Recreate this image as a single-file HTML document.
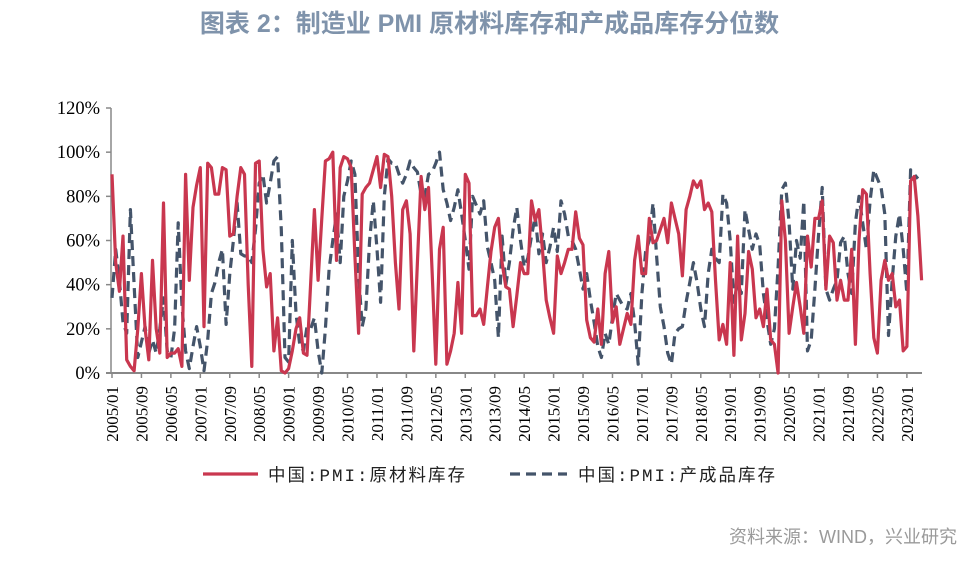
<!DOCTYPE html>
<html><head><meta charset="utf-8">
<style>
html,body{margin:0;padding:0;background:#fff;}
body{width:979px;height:561px;overflow:hidden;position:relative;}
#title{position:absolute;left:0;width:979px;top:4px;text-align:center;font-family:"Liberation Sans","Noto Sans CJK SC",sans-serif;font-weight:bold;font-size:25px;color:#7f93ab;}
#source{position:absolute;right:22px;top:523px;font-family:"Liberation Sans","Noto Sans CJK SC",sans-serif;font-size:18px;color:#9a9a9a;}
svg{position:absolute;left:0;top:0;}
</style></head><body>
<div id="title">图表 2：制造业 PMI 原材料库存和产成品库存分位数</div>
<svg id="chart" width="979" height="561"></svg>
<div id="source">资料来源：WIND，兴业研究</div>
<script>
const yTicks = [0,20,40,60,80,100,120];
const xLabels = ["2005/01","2005/09","2006/05","2007/01","2007/09","2008/05","2009/01","2009/09","2010/05","2011/01","2011/09","2012/05","2013/01","2013/09","2014/05","2015/01","2015/09","2016/05","2017/01","2017/09","2018/05","2019/01","2019/09","2020/05","2021/01","2021/09","2022/05","2023/01"];
const rawMaterial = [90,50,37,62,6,3,1,20,45,20,6,51,20,9,77,7,9,9,11,3,90,42,75,85,93,21,95,93,81,81,93,92,62,63,80,93,90,40,3,95,96,56,39,45,10,25,1,0,2,10,20,25,9,8,41,74,42,70,96,97,100,51,93,98,97,93,53,18,81,84,86,92,98,84,99,98,80,50,29,74,78,63,10,50,89,74,84,45,4,56,66,4,10,18,41,18,90,86,26,26,29,22,39,55,66,70,50,39,38,21,35,50,45,45,78,69,74,55,33,25,18,53,45,50,56,56,73,61,58,24,16,14,29,13,45,55,23,30,13,20,27,22,51,62,45,45,70,59,60,65,70,59,77,70,63,44,74,80,87,84,87,74,77,73,42,15,22,13,50,8,62,15,27,55,47,25,29,21,38,15,13,0,78,60,18,30,41,30,18,62,48,70,70,78,38,62,59,33,42,33,33,56,13,60,83,81,45,16,9,42,51,42,45,30,33,10,12,87,89,71,42];
const finishedGoods = [34,56,42,23,18,74,40,7,14,21,9,15,9,20,34,10,7,20,68,31,10,2,12,21,12,1,15,36,41,50,56,22,45,60,77,54,53,53,50,65,86,90,77,86,96,98,65,7,5,60,27,13,10,21,20,25,10,0,20,47,60,72,50,80,87,96,90,45,21,29,60,78,56,32,80,97,95,95,90,86,90,96,93,91,81,80,90,91,95,100,83,77,69,75,83,72,60,47,80,76,72,78,57,50,42,16,62,40,50,65,75,60,48,52,62,71,54,63,50,57,66,55,78,72,62,60,56,47,38,45,33,23,12,7,18,13,25,36,33,30,29,36,23,4,36,55,60,77,53,30,21,9,4,18,20,21,32,41,50,41,29,21,45,56,52,50,81,77,60,32,41,36,74,65,56,63,58,36,24,13,20,48,83,86,68,38,60,52,78,10,15,38,63,84,38,33,38,42,59,62,45,36,68,80,68,56,78,92,88,84,72,17,42,62,72,56,36,92,90,88];

const NS="http://www.w3.org/2000/svg";
const svg=document.getElementById('chart');
const X0=112, STEP=3.68, Y0=373, YPX=265/120;
function xScale(i){return X0+i*STEP;}
function yScale(v){return Y0-v*YPX;}
function mk(tag,attrs){const e=document.createElementNS(NS,tag);for(const k in attrs)e.setAttribute(k,attrs[k]);svg.appendChild(e);return e;}

let ya=mk('line',{x1:X0-1,y1:yScale(120),x2:X0-1,y2:Y0,stroke:'#888','stroke-width':1.5});


yTicks.forEach(t=>{
  const tk=mk('line',{x1:X0-6,y1:yScale(t),x2:X0-1,y2:yScale(t),stroke:'#888','stroke-width':1.5});
  
  
  const tx=mk('text',{x:X0-12,y:yScale(t)+6,'text-anchor':'end','font-family':'"Liberation Serif",serif','font-size':18.5,fill:'#000'});
  tx.textContent=t+'%';
  
  
});
let xa=mk('line',{x1:X0-6,y1:Y0,x2:922,y2:Y0,stroke:'#888','stroke-width':2});


xLabels.forEach((l,k)=>{
  const x=xScale(k*8);
  const tk=mk('line',{x1:x,y1:Y0,x2:x,y2:Y0+5,stroke:'#888','stroke-width':1.5});
  
  
  const tx=mk('text',{x:0,y:0,'text-anchor':'end','font-family':'"Liberation Serif",serif','font-size':17,fill:'#000',transform:`translate(${x+6},${Y0+13}) rotate(-90)`});
  tx.textContent=l;
  
  
});
function pathOf(arr){return arr.map((v,i)=>(i?'L':'M')+xScale(i).toFixed(1)+','+yScale(v).toFixed(1)).join(' ');}
const blue=mk('path',{d:pathOf(finishedGoods),fill:'none',stroke:'#44546a','stroke-width':3.2,'stroke-dasharray':'10,6','stroke-linejoin':'round'});


const red=mk('path',{d:pathOf(rawMaterial),fill:'none',stroke:'#c9374f','stroke-width':3.2,'stroke-linejoin':'round'});



const l1=mk('line',{x1:203,y1:474,x2:258,y2:474,stroke:'#c9374f','stroke-width':3.2});


const t1=mk('text',{x:268,y:481,'font-family':'"Liberation Mono","Noto Sans CJK SC",monospace','font-size':17.5,'letter-spacing':2,fill:'#222'});
t1.textContent='中国:PMI:原材料库存';


const l2=mk('line',{x1:510,y1:474,x2:567,y2:474,stroke:'#44546a','stroke-width':3.2,'stroke-dasharray':'10,6'});


const t2=mk('text',{x:578,y:481,'font-family':'"Liberation Mono","Noto Sans CJK SC",monospace','font-size':17.5,'letter-spacing':2,fill:'#222'});
t2.textContent='中国:PMI:产成品库存';


</script>
</body></html>
